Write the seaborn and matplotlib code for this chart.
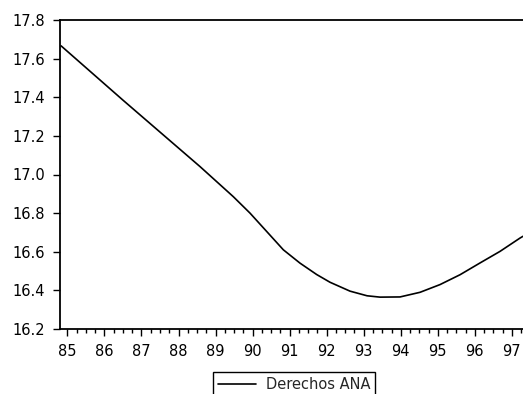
import seaborn as sns
import matplotlib.pyplot as plt
from matplotlib.ticker import MultipleLocator

# values (decimal years, level)
years = [84.83, 86.5, 88.58, 89.03, 89.48, 89.93, 90.38, 90.83, 91.28, 91.73,
         92.09, 92.63, 93.09, 93.44, 93.98, 94.52, 95.06, 95.60, 96.14,
         96.68, 97.22, 97.30]
derechos = [17.666, 17.385, 17.041, 16.963, 16.885, 16.800, 16.705, 16.610,
            16.541, 16.482, 16.442, 16.396, 16.372, 16.365, 16.366, 16.390,
            16.430, 16.481, 16.542, 16.602, 16.671, 16.680]
year_ticks = list(range(85, 98))
y_ticks = [16.2, 16.4, 16.6, 16.8, 17.0, 17.2, 17.4, 17.6, 17.8]

sns.set_style("ticks")
plt.rcParams['font.family'] = ['DejaVu Sans']

fig = plt.figure(figsize=(5.23, 3.94), dpi=100)
ax = fig.add_axes([60 / 523, 65 / 394, 463 / 523, 309 / 394])

sns.lineplot(x=years, y=derechos, color='black', linewidth=1.2, ax=ax,
             label='Derechos ANA', legend=False)

ax.set_xlim(84.8, 97.3)
ax.set_ylim(16.2, 17.8)
ax.set_xticks(year_ticks)
ax.set_xticklabels([str(y) for y in year_ticks])
ax.xaxis.set_minor_locator(MultipleLocator(0.25))
ax.set_yticks(y_ticks)
ax.set_yticklabels([f'{v:.1f}' for v in y_ticks])

for side in ['left', 'bottom', 'top']:
    ax.spines[side].set_color('black')
    ax.spines[side].set_linewidth(1.3)
ax.spines['right'].set_visible(False)

ax.tick_params(axis='both', which='major', direction='out', length=5,
               width=1, labelsize=10.5, pad=6, color='black', labelcolor='black')
ax.tick_params(axis='x', which='minor', direction='out', length=3, width=1,
               color='black')

leg = fig.legend(loc='upper center', bbox_to_anchor=(0.562, 0.056),
                 frameon=True, fancybox=False, edgecolor='black',
                 fontsize=10.5, handlelength=2.6, handletextpad=0.7,
                 borderpad=0.35, borderaxespad=0.0, framealpha=1)
leg.get_frame().set_linewidth(1.0)

fig.savefig('out.png', dpi=100)
